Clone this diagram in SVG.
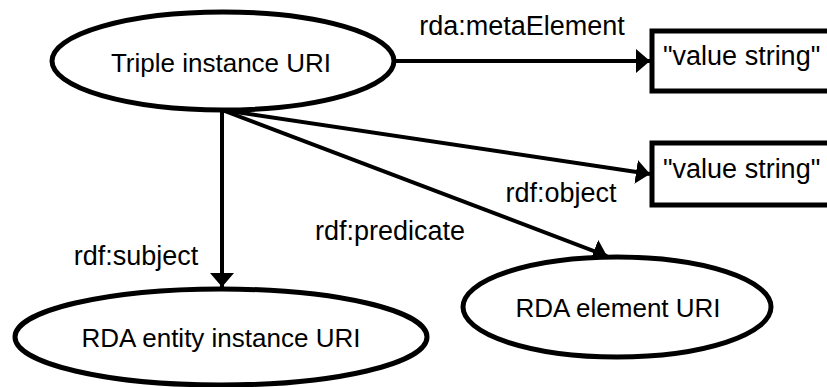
<svg xmlns="http://www.w3.org/2000/svg" width="827" height="387" viewBox="0 0 827 387">
  <style>
    .node { fill: #ffffff; stroke: #000000; stroke-width: 5; }
    .edge { fill: none; stroke: #000000; stroke-width: 4; marker-end: url(#arrow); }
    text { font-family: "Liberation Sans", Arial, sans-serif; fill: #000000; }
    .nt { font-size: 26px; }
    .lt { font-size: 27px; }
  </style>
  <defs>
    <marker id="arrow" markerUnits="userSpaceOnUse" markerWidth="14" markerHeight="24" refX="14" refY="12" orient="auto" viewBox="0 0 14 24">
      <path d="M0,0 L14,12 L0,24 Z" fill="#000000"/>
    </marker>
  </defs>
  <rect width="827" height="387" fill="#ffffff"/>

  <g id="connectors">
    <line class="edge" x1="395" y1="61" x2="650" y2="61"/>
    <line class="edge" x1="222" y1="110" x2="650" y2="174"/>
    <line class="edge" x1="222" y1="110" x2="607" y2="256"/>
    <line class="edge" x1="222" y1="110" x2="222" y2="287"/>
    <text class="lt" x="522" y="35" text-anchor="middle">rda:metaElement</text>
    <text class="lt" x="561" y="202" text-anchor="middle">rdf:object</text>
    <text class="lt" x="390" y="240" text-anchor="middle">rdf:predicate</text>
    <text class="lt" x="136" y="265" text-anchor="middle">rdf:subject</text>
  </g>

  <g id="triple">
    <ellipse class="node" cx="223" cy="61" rx="171" ry="49"/>
    <text class="nt" x="221" y="72" text-anchor="middle">Triple instance URI</text>
  </g>

  <g id="value1">
    <rect class="node" x="652" y="31" width="200" height="60"/>
    <text class="lt" x="663" y="65">"value string"</text>
  </g>

  <g id="value2">
    <rect class="node" x="652" y="143" width="200" height="62"/>
    <text class="lt" x="663" y="178">"value string"</text>
  </g>

  <g id="element">
    <ellipse class="node" cx="617" cy="307" rx="154" ry="50"/>
    <text class="nt" x="618" y="317" text-anchor="middle">RDA element URI</text>
  </g>

  <g id="entity">
    <ellipse class="node" cx="221" cy="337" rx="206" ry="48"/>
    <text class="nt" x="221" y="347" text-anchor="middle">RDA entity instance URI</text>
  </g>
</svg>
